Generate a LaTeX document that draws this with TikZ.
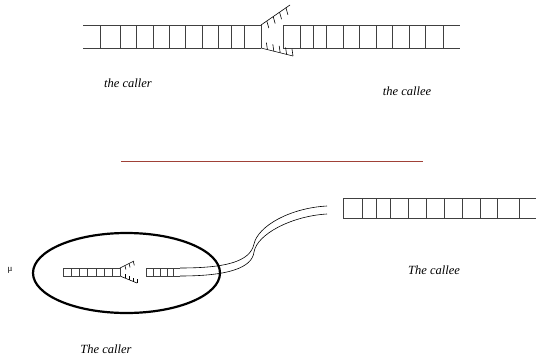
\documentclass[tikz,border=0pt]{standalone}
\usepackage{fontspec}
\setmainfont{Liberation Serif}
\usetikzlibrary{calc}
\definecolor{rulered}{RGB}{160,65,55}
\begin{document}
\begin{tikzpicture}[x=1pt,y=-1pt,
  rail/.style={line width=0.7pt, black!75},
  strand/.style={line width=0.6pt, black},
  ring/.style={line width=2.2pt, black},
  lbl/.style={font=\fontsize{12.5}{14}\selectfont\itshape, inner sep=0pt},
]
\useasboundingbox (0,0) rectangle (536,356);

% ---- upper strip: a ladder being opened in the middle ----
\draw[rail] (83,25) -- (261,25) (83,48) -- (261,48);
\foreach \x in {100,120,136,153,169,185,202,218,231,244,261}
  \draw[rail] (\x,25) -- (\x,48);
\draw[rail] (283,25) -- (460,25) (283,48) -- (460,48);
\foreach \x in {283,300,313,326,343,359,376,392,409,425,443}
  \draw[rail] (\x,25) -- (\x,48);

% the two opened halves with their rung stubs
\coordinate (ua) at (261,25);
\coordinate (ub) at (290,5);
\coordinate (la) at (261,48);
\coordinate (lb) at (293,56);
\draw[strand] (ua) -- (ub);
\foreach \t in {0.2,0.42,0.64,0.86}
  \draw[strand] ($(ua)!\t!(ub)$) -- ++(2,7);
\draw[strand] (la) -- (lb);
\foreach \t in {0.2,0.4,0.6,0.8,1}
  \draw[strand] ($(la)!\t!(lb)$) -- ++(-1,-7);

\node[lbl] (callerA) at (128,83) {the caller};
\node[lbl] (calleeA) at (407,91) {the callee};

% ---- separating rule ----
\draw[rulered, line width=0.9pt] (121,161) -- (423,161);

% ---- lower strip ----
\draw[rail] (343,198) -- (536,198) (343,218) -- (536,218);
\foreach \x in {343,362,376,390,408,426,444,462,480,497,519}
  \draw[rail] (\x,198) -- (\x,218);

% small ladder inside the caller
\draw[rail] (63,268) -- (120,268) (63,276) -- (120,276);
\foreach \x in {63,71,79,87,96,104,112,120}
  \draw[rail] (\x,268) -- (\x,276);
\coordinate (sua) at (120,268);
\coordinate (sub) at (134,261);
\coordinate (sla) at (120,276);
\coordinate (slb) at (137,283);
\draw[strand] (sua) -- (sub);
\foreach \t in {0.35,0.65,0.95}
  \draw[strand] ($(sua)!\t!(sub)$) -- ++(1,4);
\draw[strand] (sla) -- (slb);
\foreach \t in {0.3,0.55,0.8,1}
  \draw[strand] ($(sla)!\t!(slb)$) -- ++(0,-4);

\draw[rail] (146,268) -- (180,268) (146,276) -- (180,276);
\foreach \x in {146,153,160,167,173}
  \draw[rail] (\x,268) -- (\x,276);

% the pair of lines leading out to the callee
\draw[strand] (180,268) .. controls (225,268) and (250,262) .. (254,244)
  .. controls (258,226) and (290,208) .. (327,206);
\draw[strand] (180,276) .. controls (228,276) and (252,268) .. (254,252)
  .. controls (257,234) and (292,216) .. (327,214);

% caller boundary
\draw[ring] (126.5,273) ellipse [x radius=93.5pt, y radius=40pt];

\node[font=\fontsize{9}{10}\selectfont, inner sep=0pt] (mu) at (10,270) {μ};
\node[lbl] (calleeB) at (434,270) {The callee};
\node[lbl] (callerB) at (106,349) {The caller};
\end{tikzpicture}
\end{document}
